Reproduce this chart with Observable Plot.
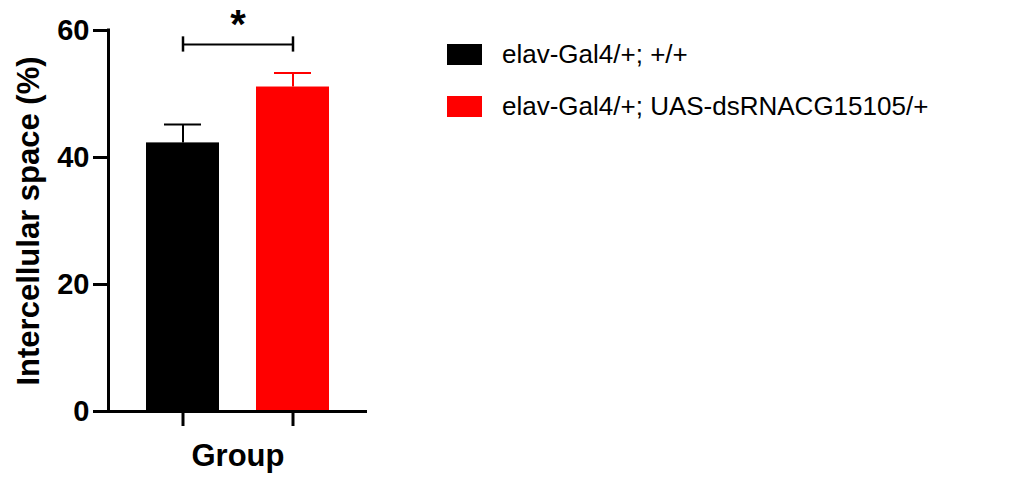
<!DOCTYPE html>
<html>
<head>
<meta charset="utf-8">
<script src="https://cdn.jsdelivr.net/npm/d3@7"></script>
<script src="https://cdn.jsdelivr.net/npm/@observablehq/plot@0.6"></script>
<style>
  html, body { margin: 0; padding: 0; background: #fff; }
  #wrap { position: relative; width: 1032px; height: 478px; font-family: "Liberation Sans", Arial, sans-serif; }
  #chart svg { display: block; }
  g[aria-label^="y-axis"] text { font-size: 29px !important; font-weight: bold !important; font-family: "Liberation Sans", Arial, sans-serif; }
  g[aria-label^="y-axis"] path, g[aria-label^="y-axis"] line,
  g[aria-label^="x-axis"] path, g[aria-label^="x-axis"] line { stroke-width: 3px !important; stroke: #000 !important; }
  #legend { position: absolute; left: 447px; top: 44px; }
  .row { display: flex; align-items: center; height: 21px; margin-bottom: 31px; }
  .sw { width: 35px; height: 21px; margin-right: 20px; flex: none; }
  .lab { font-size: 26px; color: #000; white-space: nowrap; line-height: 21px; }
</style>
</head>
<body>
<div id="wrap">
  <div id="chart"></div>
  <div id="legend"></div>
</div>
<script>
// ---- data ----
const groups = ["elav-Gal4/+; +/+", "elav-Gal4/+; UAS-dsRNACG15105/+"];
const means = [42.3, 51.1];
const sems = [2.9, 2.2];
const colors = ["#000000", "#ff0000"];
const yTicks = [0, 20, 40, 60];
const yDomain = [0, 60];
const xTitle = "Group";
const yTitle = "Intercellular space (%)";
const sigLabel = "*";
const sigLineY = 57.8;
const sigEndY = [56.6, 59.0];
const sigStarY = 58.8;

// ---- layout ----
const W = 1032, H = 478, ML = 108, MR = 665, MT = 30, MB = 67;

const data = groups.map((g, i) => ({group: g, mean: means[i], sem: sems[i]}));
const sig = [{a: groups[0], b: groups[1], y: sigLineY, starY: sigStarY, label: sigLabel}];
const font = "'Liberation Sans', Arial, sans-serif";

const chart = Plot.plot({
  width: W, height: H,
  marginLeft: ML, marginRight: MR, marginTop: MT, marginBottom: MB,
  style: {fontFamily: font, background: "#fff", color: "#000", overflow: "visible"},
  x: {domain: groups, padding: 0.34, tickSize: 15, tickFormat: () => "", label: null, axis: "bottom"},
  y: {domain: yDomain, ticks: yTicks, tickSize: 15, tickPadding: 4, label: null},
  color: {domain: groups, range: colors},
  marks: [
    Plot.barY(data, {x: "group", y: "mean", fill: "group"}),
    Plot.ruleX(data, {x: "group", y1: "mean", y2: d => d.mean + d.sem, stroke: "group", strokeWidth: 2}),
    Plot.tickY(data, {x: "group", y: d => d.mean + d.sem, stroke: "group", strokeWidth: 2, insetLeft: 18, insetRight: 18}),
    Plot.ruleY([yDomain[0]], {strokeWidth: 3, stroke: "#000"}),
    Plot.ruleX([{y1: yDomain[0], y2: yDomain[1]}], {x: null, y1: "y1", y2: "y2", dx: -(W - ML - MR) / 2, strokeWidth: 3, stroke: "#000", strokeLinecap: "square"}),
    Plot.link(sig, {x1: "a", x2: "b", y1: "y", y2: "y", stroke: "#000", strokeWidth: 2}),
    Plot.ruleX([groups[0], groups[1]], {x: d => d, y1: sigEndY[0], y2: sigEndY[1], stroke: "#000", strokeWidth: 2.5}),
    Plot.text(sig, {y: "starY", text: "label", lineAnchor: "bottom", fontSize: 40, fontWeight: "bold", fill: "#000", clip: false}),
    Plot.text([yTitle], {text: d => d, frameAnchor: "left", textAnchor: "middle", dx: -79, rotate: -90, fontSize: 31, fontWeight: "bold", fill: "#000"}),
    Plot.text([xTitle], {text: d => d, frameAnchor: "bottom", dy: 54, fontSize: 31, fontWeight: "bold", fill: "#000"})
  ]
});
document.getElementById("chart").appendChild(chart);

// legend
const legend = d3.select("#legend");
groups.forEach((g, i) => {
  const row = legend.append("div").attr("class", "row");
  row.append("div").attr("class", "sw").style("background", colors[i]);
  row.append("div").attr("class", "lab").text(g);
});
</script>
</body>
</html>
